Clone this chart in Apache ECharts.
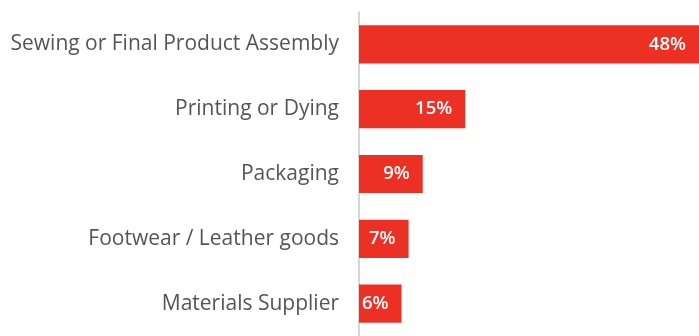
<!DOCTYPE html>
<html>
<head>
<meta charset="utf-8">
<script src="https://cdn.jsdelivr.net/npm/echarts@6/dist/echarts.min.js"></script>
<style>
  html, body { margin: 0; padding: 0; background: #ffffff; }
  #chart { width: 699px; height: 336px; }
</style>
</head>
<body>
<div id="chart"></div>
<script>
// Stages of production, listed top to bottom
const categories = [
  'Sewing or Final Product Assembly',
  'Printing or Dying',
  'Packaging',
  'Footwear / Leather goods',
  'Materials Supplier'
];
// Share of respondents, percent
const values = [48, 15, 9, 7, 6];

const chart = echarts.init(document.getElementById('chart'));
chart.setOption({
  animation: false,
  grid: { left: 359, right: -2, top: 12, bottom: -4, containLabel: false },
  xAxis: {
    type: 'value',
    min: 0,
    max: 48,
    show: false
  },
  yAxis: {
    type: 'category',
    data: categories,
    inverse: true,
    axisTick: { show: false },
    axisLine: { show: true, lineStyle: { color: '#d6d6d6', width: 2 } },
    axisLabel: {
      color: '#555555',
      fontFamily: 'Open Sans',
      fontSize: 21,
      margin: 20
    }
  },
  series: [{
    type: 'bar',
    data: values,
    barWidth: '59%',
    itemStyle: { color: '#EC3024' },
    label: {
      show: true,
      position: 'insideRight',
      distance: 13,
      color: '#ffffff',
      fontFamily: 'Open Sans',
      fontWeight: 600,
      fontSize: 18.5,
      formatter: p => p.value + '%'
    }
  }]
});
</script>
</body>
</html>
